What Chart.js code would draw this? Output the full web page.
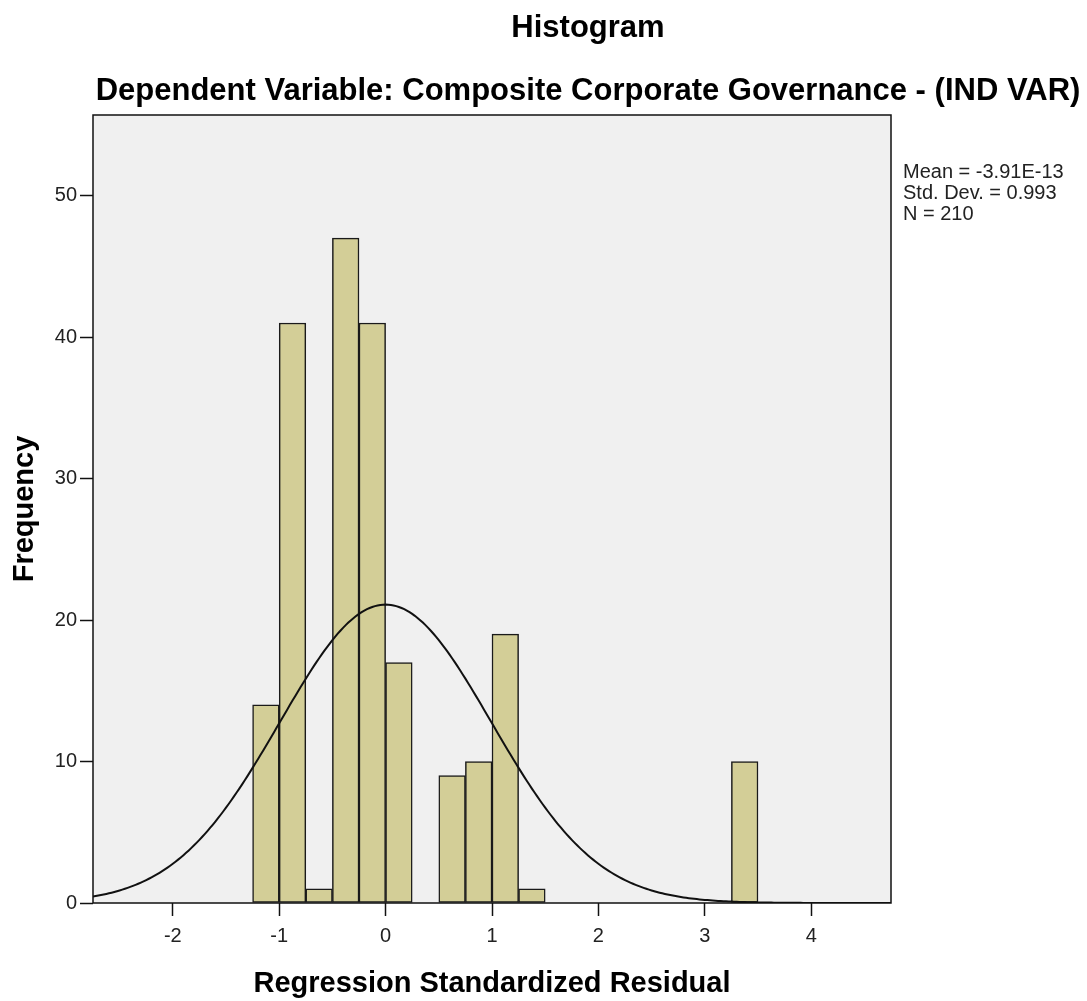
<!DOCTYPE html>
<html>
<head>
<meta charset="utf-8">
<script src="https://cdn.jsdelivr.net/npm/chart.js@4.4.1/dist/chart.umd.min.js"></script>
<style>
  body { margin: 0; background: #fff; }
  #wrap { width: 1087px; height: 1001px; }
</style>
</head>
<body>
<div id="wrap"><canvas id="myChart" width="1087" height="1001"></canvas></div>
<script>
// Histogram bins (left edge of each bin) and counts
const binStart = [-1.25, -1.0, -0.75, -0.5, -0.25, 0, 0.25, 0.5, 0.75, 1.0, 1.25, 1.5, 1.75, 2.0, 2.25, 2.5, 2.75, 3.0, 3.25];
const frequency = [14, 41, 1, 47, 41, 17, 0, 9, 10, 19, 1, 0, 0, 0, 0, 0, 0, 0, 10];
const binWidth = 0.25;

// Axis ticks
const xTicks = [-2, -1, 0, 1, 2, 3, 4];
const yTicks = [0, 10, 20, 30, 40, 50];

// Summary stats shown in the right margin
const meanValue = -3.91e-13;
const stdDev = 0.993;
const nCases = 210;
const statLines = ['Mean = -3.91E-13', 'Std. Dev. = 0.993', 'N = 210'];

const mainTitle = 'Histogram';
const subTitle = 'Dependent Variable: Composite Corporate Governance - (IND VAR)';

// Bars centred in their bins
const barData = binStart.map((s, i) => ({ x: s + binWidth / 2, y: frequency[i] }));

// Fitted normal curve from the mean / sd / N above
const curveData = [];
for (let x = -2.75; x <= 4.76; x += 0.025) {
    const z = (x - meanValue) / stdDev;
    const y = nCases * binWidth * Math.exp(-0.5 * z * z) / (stdDev * Math.sqrt(2 * Math.PI));
    curveData.push({ x: x, y: y });
}

const decorPlugin = {
    id: 'decor',
    beforeDraw(chart) {
        const { ctx, chartArea: a } = chart;
        ctx.save();
        ctx.fillStyle = '#ffffff';
        ctx.fillRect(0, 0, chart.width, chart.height);
        ctx.fillStyle = '#f0f0f0';
        ctx.fillRect(a.left, a.top, a.right - a.left, a.bottom - a.top);
        ctx.restore();
    },
    afterDatasetsDraw(chart) {
        const { ctx, chartArea: a } = chart;
        ctx.save();
        ctx.strokeStyle = '#111';
        ctx.lineWidth = 1.5;
        ctx.strokeRect(a.left, a.top, a.right - a.left, a.bottom - a.top);
        ctx.restore();
    },
    afterDraw(chart) {
        const ctx = chart.ctx;
        ctx.save();
        ctx.fillStyle = '#000';
        ctx.textAlign = 'center';
        ctx.textBaseline = 'alphabetic';
        ctx.font = 'bold 31px "Liberation Sans", Arial, sans-serif';
        ctx.fillText(mainTitle, 588, 37);
        ctx.fillText(subTitle, 588, 100);

        ctx.textAlign = 'left';
        ctx.font = '20px "Liberation Sans", Arial, sans-serif';
        ctx.fillStyle = '#222';
        statLines.forEach((t, i) => ctx.fillText(t, 903, 178 + i * 21));
        ctx.restore();
    }
};

const ctx = document.getElementById('myChart');

new Chart(ctx, {
    data: {
        datasets: [
            {
                type: 'line',
                data: curveData,
                borderColor: '#111',
                borderWidth: 2,
                pointRadius: 0,
                tension: 0,
                order: 0
            },
            {
                type: 'bar',
                data: barData,
                backgroundColor: 'rgb(211, 206, 151)',
                borderColor: '#1a1a1a',
                borderWidth: 1.5,
                borderSkipped: false,
                barPercentage: 1,
                categoryPercentage: 1,
                order: 1
            }
        ]
    },
    options: {
        responsive: false,
        animation: false,
        layout: { padding: { left: 0, top: 115, right: 196, bottom: 0 } },
        plugins: {
            legend: { display: false },
            title: { display: false },
            tooltip: { enabled: false }
        },
        scales: {
            x: {
                type: 'linear',
                min: -2.75,
                max: 4.75,
                offset: false,
                afterFit: axis => { axis.height = 98; },
                afterBuildTicks: axis => { axis.ticks = xTicks.map(v => ({ value: v })); },
                grid: { display: true, offset: false, drawOnChartArea: false, drawTicks: true, tickLength: 13, tickColor: '#111', tickWidth: 1.5 },
                border: { display: false },
                ticks: { padding: 8, color: '#222', font: { family: '"Liberation Sans", Arial', size: 20 } },
                title: {
                    display: true,
                    text: 'Regression Standardized Residual',
                    color: '#000',
                    padding: { top: 0, bottom: 0 },
                    font: { family: '"Liberation Sans", Arial', size: 29, weight: 'bold' }
                }
            },
            y: {
                type: 'linear',
                min: 0,
                max: 55.7,
                afterFit: axis => { axis.width = 93; },
                afterBuildTicks: axis => { axis.ticks = yTicks.map(v => ({ value: v })); },
                grid: { display: true, drawOnChartArea: false, drawTicks: true, tickLength: 13, tickColor: '#111', tickWidth: 1.5 },
                border: { display: false },
                ticks: { padding: 3, color: '#222', font: { family: '"Liberation Sans", Arial', size: 20 } },
                title: {
                    display: true,
                    text: 'Frequency',
                    color: '#000',
                    padding: { top: 8, bottom: 0 },
                    font: { family: '"Liberation Sans", Arial', size: 29, weight: 'bold' }
                }
            }
        }
    },
    plugins: [decorPlugin]
});
</script>
</body>
</html>
